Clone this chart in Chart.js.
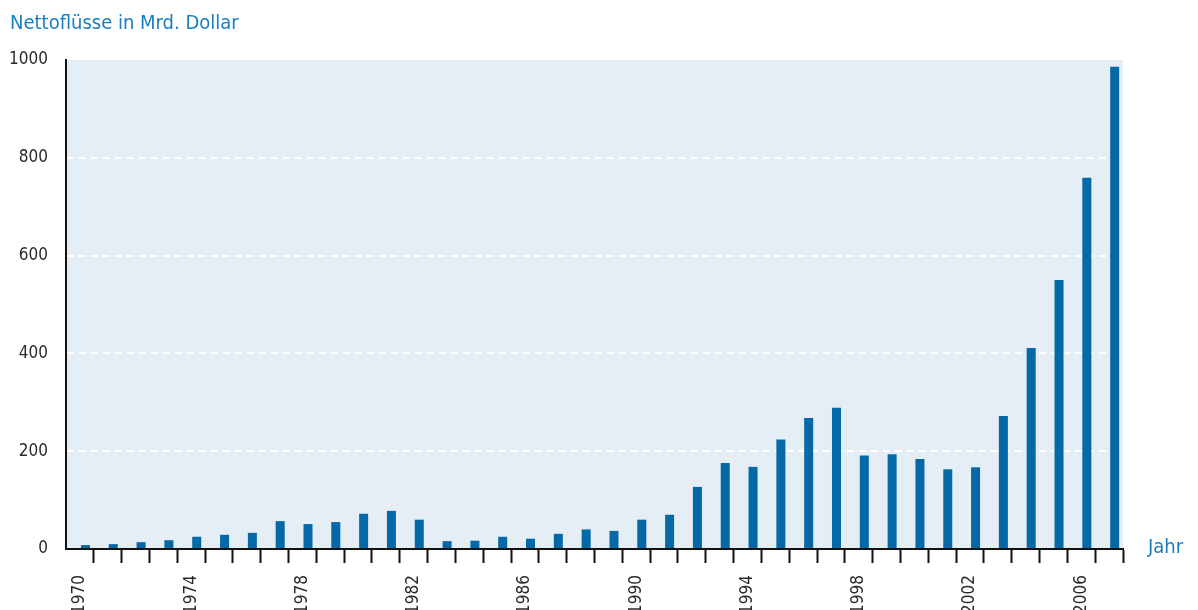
<!DOCTYPE html>
<html lang="de">
<head>
<meta charset="UTF-8">
<title>Nettoflüsse</title>
<script src="https://cdn.jsdelivr.net/npm/chart.js"></script>
<style>
    body { margin: 0; background: #fff; }
    .rahmen { position: relative; width: 1198px; height: 610px; overflow: hidden; }
    .schrift { font-family: 'DejaVu Sans Condensed', 'Liberation Sans Narrow', sans-serif; color: #1a7dc0; position: absolute; font-size: 20px; line-height: 20px; }
    #titel { left: 10px; top: 12px; }
    #jahr { left: 1148px; top: 536px; }
    #grafik { position: absolute; left: 0; top: 0; }
</style>
</head>
<body>
<div class="rahmen">
    <canvas id="grafik" width="1198" height="610"></canvas>
    <div id="titel" class="schrift">Nettoflüsse in Mrd. Dollar</div>
    <div id="jahr" class="schrift">Jahr</div>
</div>

<script>
    // Daten
    const jahre = ["1970","1971","1972","1973","1974","1975","1976","1977","1978","1979",
                   "1980","1981","1982","1983","1984","1985","1986","1987","1988","1989",
                   "1990","1991","1992","1993","1994","1995","1996","1997","1998","1999",
                   "2000","2001","2002","2003","2004","2005","2006","2007"];
    const nettofluesse = [8, 10, 14, 18, 25, 29, 33, 57, 51, 55,
                          72, 78, 60, 16, 17, 25, 21, 31, 40, 37,
                          60, 70, 127, 176, 168, 224, 268, 289, 191, 194,
                          184, 163, 167, 272, 411, 550, 759, 986];
    const jahresBeschriftung = ["1970","1974","1978","1982","1986","1990","1994","1998","2002","2006"];
    const yTicks = [0, 200, 400, 600, 800, 1000];

    const schrift = "'DejaVu Sans Condensed', 'Liberation Sans Narrow', sans-serif";
    const leer = 'rgba(0,0,0,0)';

    // Hintergrund der Zeichenfläche
    const hintergrund = {
        id: 'hintergrund',
        beforeDraw(chart) {
            const a = chart.chartArea;
            const ctx = chart.ctx;
            ctx.save();
            ctx.fillStyle = '#e5edf5';
            ctx.fillRect(a.left, a.top, a.right - a.left, a.bottom - a.top);
            ctx.restore();
        }
    };

    new Chart(document.getElementById('grafik'), {
        type: 'bar',
        data: {
            labels: jahre,
            datasets: [
                // leerer Platzhalter, schiebt die Balken etwas nach rechts
                { data: [], backgroundColor: leer },
                {
                    label: 'Nettoflüsse',
                    data: nettofluesse,
                    backgroundColor: '#0569a8',
                    borderWidth: 0
                }
            ]
        },
        options: {
            responsive: false,
            animation: false,
            categoryPercentage: 0.8,
            barPercentage: 0.81,
            layout: { padding: { top: 60, right: 75, left: 0, bottom: 0 } },
            plugins: {
                legend: { display: false },
                tooltip: { enabled: false }
            },
            scales: {
                x: {
                    grid: {
                        offset: true,
                        drawOnChartArea: false,
                        drawTicks: true,
                        tickLength: 14,
                        tickWidth: 2,
                        tickColor: ctx => ctx.index === 0 ? leer : '#111'
                    },
                    border: { color: '#111', width: 2 },
                    ticks: {
                        autoSkip: false,
                        maxRotation: 90,
                        minRotation: 90,
                        padding: 12,
                        color: '#2a2a2a',
                        font: { family: schrift, size: 17 },
                        callback: function (v, i) {
                            const j = jahre[i];
                            return jahresBeschriftung.includes(j) ? j : '';
                        }
                    },
                    afterFit(scale) { scale.height = 61; }
                },
                y: {
                    min: 0,
                    max: 1000,
                    afterBuildTicks(scale) { scale.ticks = yTicks.map(v => ({ value: v })); },
                    grid: {
                        drawTicks: false,
                        lineWidth: 2,
                        color: ctx => (ctx.tick && (ctx.tick.value === 0 || ctx.tick.value === 1000)) ? leer : '#ffffff'
                    },
                    border: { color: '#111', width: 2, dash: [7, 5] },
                    ticks: {
                        padding: 18,
                        color: '#2a2a2a',
                        font: { family: schrift, size: 17 },
                        callback: v => String(v)
                    },
                    afterFit(scale) { scale.width = 66; }
                }
            }
        },
        plugins: [hintergrund]
    });
</script>
</body>
</html>
